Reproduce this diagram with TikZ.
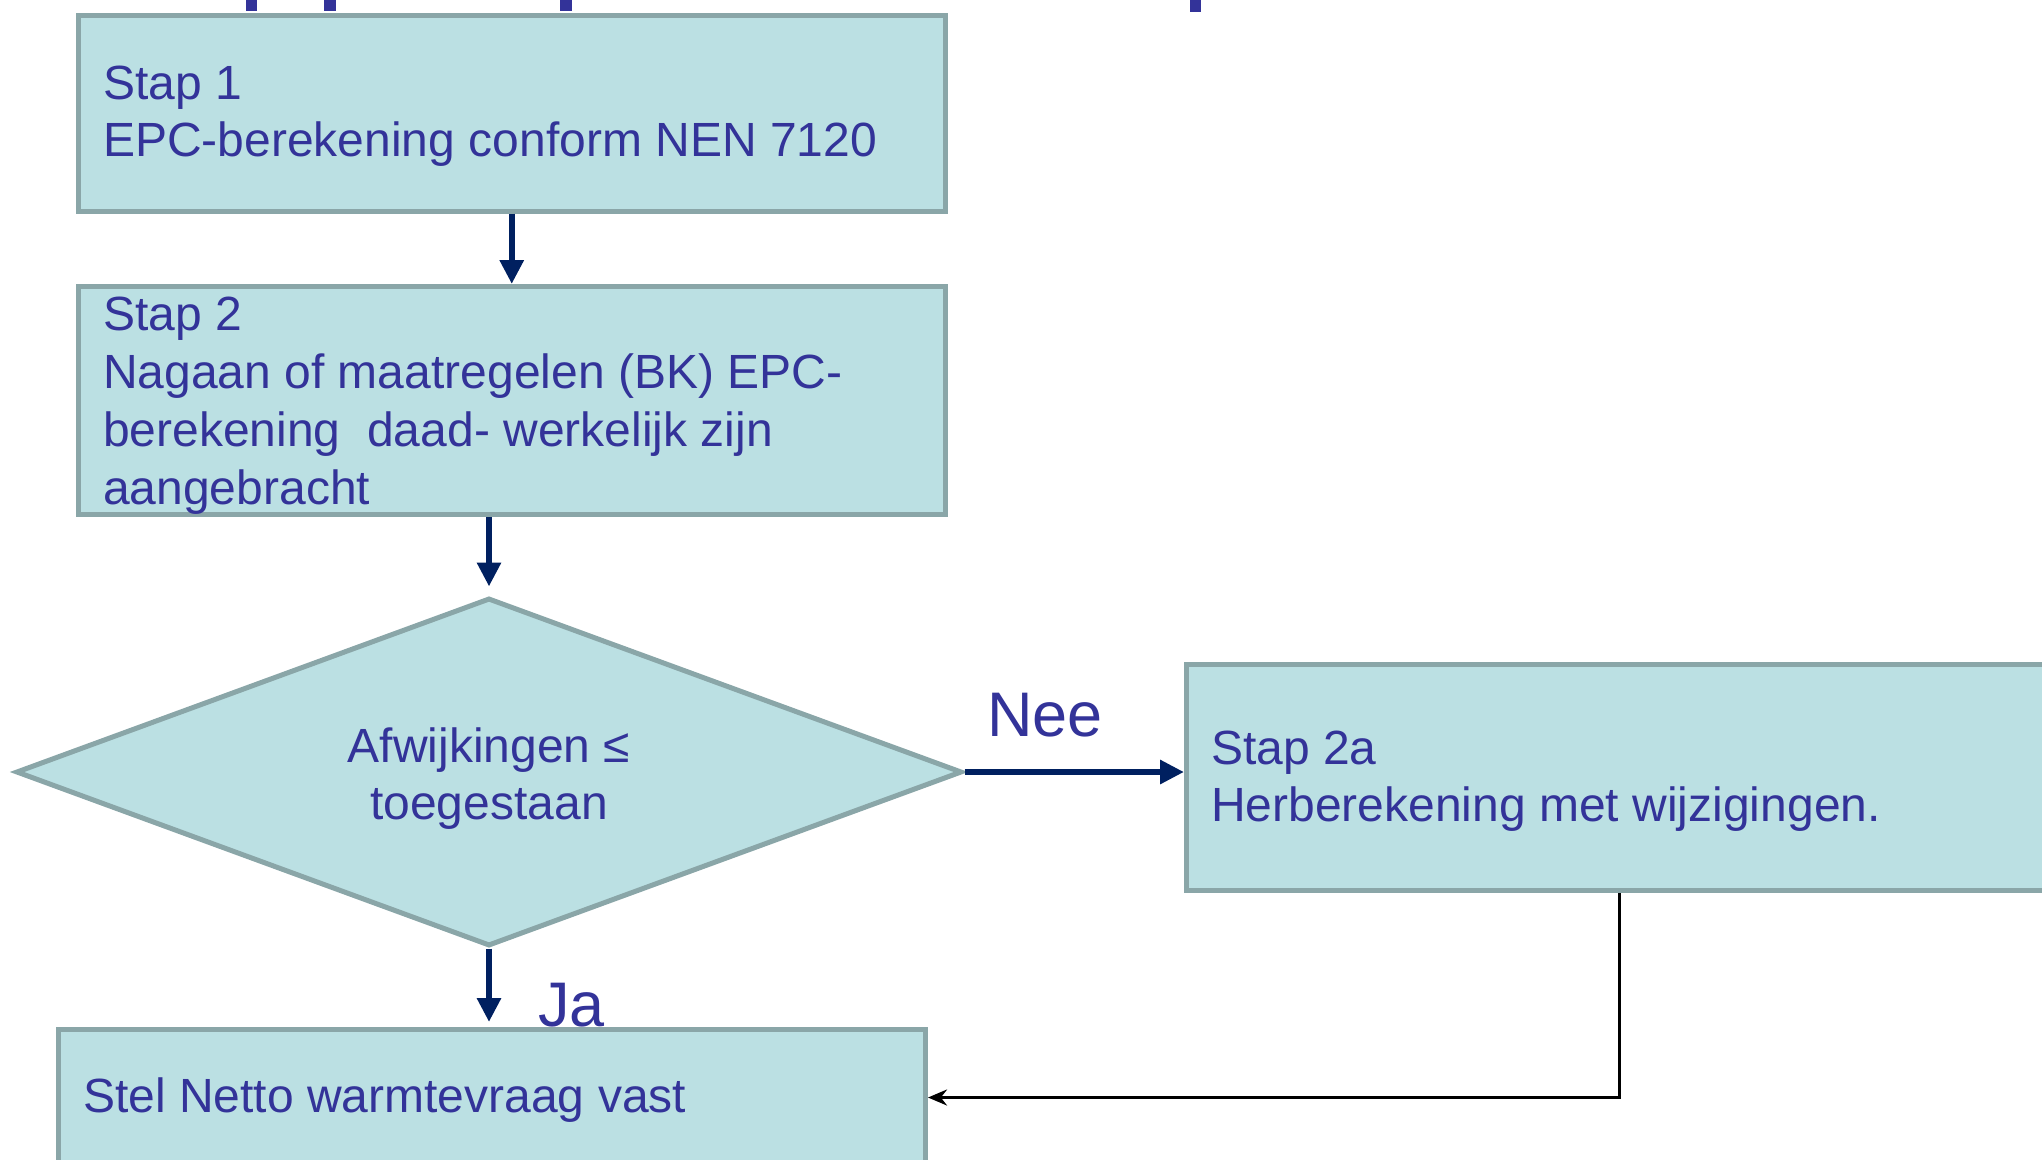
\documentclass[tikz,border=0pt]{standalone}
\usepackage{fontspec}
\setmainfont{Liberation Sans}
\usetikzlibrary{arrows.meta,shapes.geometric}
\definecolor{txtblue}{HTML}{333399}
\definecolor{boxfill}{HTML}{BBE0E3}
\definecolor{boxline}{HTML}{8AA6A8}
\definecolor{navy}{HTML}{002060}
\begin{document}
\begin{tikzpicture}[x=1pt,y=-1pt,
  box/.style={rectangle,draw=boxline,fill=boxfill,line width=5pt,inner sep=0pt,anchor=north west},
  txt/.style={text=txtblue,font=\fontsize{48}{57}\selectfont,inner sep=0pt,align=left,anchor=base west},
  ctxt/.style={text=txtblue,font=\fontsize{48}{57}\selectfont,inner sep=0pt,align=center,anchor=base},
  big/.style={text=txtblue,font=\fontsize{63}{70}\selectfont,inner sep=0pt,anchor=base west},
  flow/.style={draw=navy,line width=6.5pt,-{Triangle[length=24pt,width=23pt]}},
  back/.style={draw=black,line width=3pt,-{Stealth[length=19pt,width=16pt]}},
  bar/.style={fill=txtblue}]
\useasboundingbox (0,0) rectangle (2042,1159);
\clip (0,0) rectangle (2042,1159);
% remnants of the cut-off title
\fill[bar] (246,0) rectangle (257,11);
\fill[bar] (324,0) rectangle (336,11);
\fill[bar] (560,0) rectangle (572,11);
\fill[bar] (1190,0) rectangle (1201,12);
% boxes
\node[box,minimum width=867.5pt,minimum height=196pt] (box1) at (75.5,12.5) {};
\node[box,minimum width=867.5pt,minimum height=228pt] (box2) at (75.5,284) {};
\node[diamond,draw=boxline,fill=boxfill,line width=5pt,inner sep=0pt,minimum width=946pt,minimum height=348pt] (dia) at (489,772) {};
\node[box,minimum width=900pt,minimum height=226.5pt] (box2a) at (1184,661.5) {};
\node[box,minimum width=867pt,minimum height=136pt] (box3) at (56,1027) {};
% texts (anchored at the baseline of their last line)
\node[txt] (t1) at (103,156) {Stap 1\\EPC-berekening conform NEN 7120};
\node[txt,font=\fontsize{48}{57.7}\selectfont] (t2) at (103,504) {Stap 2\\Nagaan of maatregelen (BK) EPC-\\berekening\ \ daad- werkelijk zijn\\aangebracht};
\node[ctxt] (td) at (489,819) {Afwijkingen ≤\\toegestaan};
\node[txt] (t2a) at (1211,821) {Stap 2a\\Herberekening met wijzigingen.};
\node[txt] (t3) at (83,1112) {Stel Netto warmtevraag vast};
\node[big] (nee) at (987,736) {Nee};
\node[big] (ja) at (538,1026) {Ja};
% connectors
\draw[flow] (box1.south) -- (box2.north);
\draw[flow,shorten >=9pt] (box2.south -| dia.north) -- (dia.north);
\draw[flow,shorten >=5pt] (dia.south) -- (box3.north -| dia.south);
\draw[flow] (dia.east) -- (dia.east -| box2a.west);
\coordinate (fb) at (1619,888);
\draw[back] (box2a.south -| fb) |- (box3.east);
\end{tikzpicture}
\end{document}
